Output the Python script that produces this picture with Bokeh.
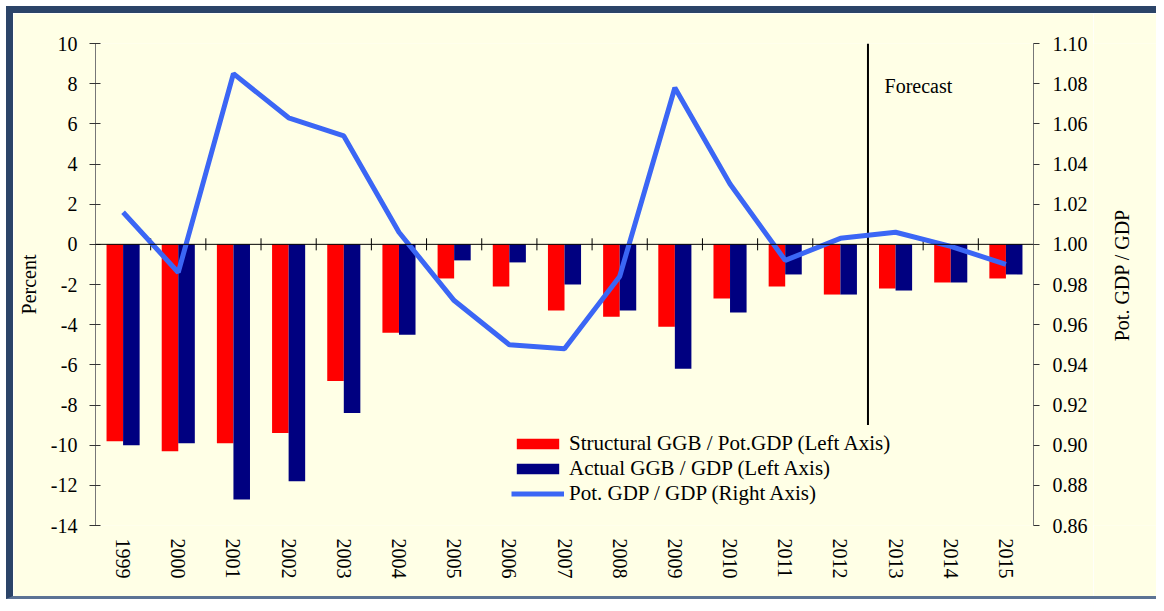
import math
from bokeh.plotting import figure
from bokeh.layouts import row
from bokeh.models import (Range1d, FactorRange, LinearAxis, FixedTicker, NumeralTickFormatter,
                          Span, Legend, LegendItem, ColumnDataSource)
from bokeh.transform import dodge
from bokeh.core.properties import value
from bokeh.embed import file_html
from bokeh.resources import INLINE

years = ["1999", "2000", "2001", "2002", "2003", "2004", "2005", "2006", "2007",
         "2008", "2009", "2010", "2011", "2012", "2013", "2014", "2015"]
structural_ggb = [-9.8, -10.3, -9.9, -9.4, -6.8, -4.4, -1.7, -2.1, -3.3,
                  -3.6, -4.1, -2.7, -2.1, -2.5, -2.2, -1.9, -1.7]
actual_ggb = [-10.0, -9.9, -12.7, -11.8, -8.4, -4.5, -0.8, -0.9, -2.0,
              -3.3, -6.2, -3.4, -1.5, -2.5, -2.3, -1.9, -1.5]
pot_gdp_ratio = [1.016, 0.986, 1.085, 1.063, 1.054, 1.006, 0.972, 0.950, 0.948,
                 0.984, 1.078, 1.030, 0.992, 1.003, 1.006, 0.999, 0.990]
left_ticks = list(range(-14, 11, 2))
right_ticks = [0.86, 0.88, 0.90, 0.92, 0.94, 0.96, 0.98, 1.00, 1.02, 1.04, 1.06, 1.08, 1.10]
forecast_start = "2013"
right_axis_title = "Pot. GDP / GDP"

FONT = "Liberation Serif"
BG = "#FFFFE6"
NAVY_FRAME = "#2B4468"
B_LEFT, B_RIGHT, B_TOP, B_BOTTOM = 82, 67, 30, 81
FRAME_W, FRAME_H = 938, 482
TOTAL_W = B_LEFT + FRAME_W + B_RIGHT
TOTAL_H = B_TOP + FRAME_H + B_BOTTOM

src = ColumnDataSource(dict(year=years, s=structural_ggb, a=actual_ggb, r=pot_gdp_ratio,
                            zero=[0] * len(years)))

p = figure(x_range=FactorRange(*years), y_range=Range1d(-14, 10),
           width=TOTAL_W, height=TOTAL_H,
           min_border_left=B_LEFT, min_border_top=B_TOP, min_border_right=B_RIGHT,
           min_border_bottom=B_BOTTOM,
           output_backend="svg", toolbar_location=None,
           background_fill_color=BG, border_fill_color=BG, outline_line_color=None)
p.extra_y_ranges = {"right": Range1d(0.86, 1.10)}
p.styles = {"margin-top": "6px", "margin-left": "6px",
            "border-top": f"7px solid {NAVY_FRAME}", "border-left": f"7px solid {NAVY_FRAME}",
            "border-bottom": "3px solid #5C7394"}
p.xgrid.visible = False
p.ygrid.visible = False

# bars
rb = p.vbar(x=dodge("year", -0.15, range=p.x_range), top="zero", bottom="s", width=0.3,
            source=src, fill_color="#FF0000", line_color=None)
nb = p.vbar(x=dodge("year", 0.15, range=p.x_range), top="zero", bottom="a", width=0.3,
            source=src, fill_color="#000080", line_color=None)

# zero line with category boundary ticks
p.add_layout(Span(location=0, dimension="width", line_color="black", line_width=1))
n = len(years)
bx = list(range(1, n))
p.segment(x0=bx, x1=bx, y0=[-0.3] * len(bx), y1=[0.3] * len(bx), line_color="black", line_width=1)

# forecast divider
fi = years.index(forecast_start)
p.segment(x0=[fi], x1=[fi], y0=[10], y1=[-9], line_color="black", line_width=2)
p.text(x=[fi + 0.3], y=[7.9], text=["Forecast"], text_font=value(FONT), text_font_size="20px",
       text_baseline="middle", text_align="left", text_color="black")

# line
ln = p.line(x="year", y="r", source=src, y_range_name="right", line_color="#3B66F5",
            line_width=5)

# axes
la = p.yaxis[0]
la.ticker = FixedTicker(ticks=left_ticks)
la.major_label_overrides = {t: str(t) for t in left_ticks}
la.axis_label = "Percent"
la.major_tick_out = 6
la.major_tick_in = 5
la.minor_tick_line_color = None
la.axis_line_color = "#777777"
la.major_tick_line_color = "#333333"
la.major_label_standoff = 12
la.axis_label_standoff = 8

ra = LinearAxis(y_range_name="right", ticker=FixedTicker(ticks=right_ticks),
                formatter=NumeralTickFormatter(format="0.00"))
ra.major_tick_out = 6
ra.major_tick_in = 0
ra.minor_tick_line_color = None
ra.axis_line_color = "#777777"
ra.major_tick_line_color = "#333333"
ra.major_label_standoff = 13
p.add_layout(ra, "right")

xa = p.xaxis[0]
xa.axis_line_color = None
xa.major_tick_line_color = None
xa.minor_tick_line_color = None
xa.major_tick_out = 0
xa.major_label_orientation = "vertical"
xa.major_label_standoff = 13

for ax in [la, ra, xa]:
    ax.major_label_text_font = FONT
    ax.major_label_text_font_size = "20px"
    ax.major_label_text_color = "black"
    ax.axis_label_text_font = FONT
    ax.axis_label_text_font_size = "20px"
    ax.axis_label_text_font_style = "normal"
    ax.axis_label_text_color = "black"

legend = Legend(items=[
    LegendItem(label="Structural GGB / Pot.GDP (Left Axis)", renderers=[rb]),
    LegendItem(label="Actual GGB / GDP (Left Axis)", renderers=[nb]),
    LegendItem(label="Pot. GDP / GDP (Right Axis)", renderers=[ln]),
], location=(416, 19))
legend.background_fill_alpha = 0
legend.border_line_color = None
legend.padding = 0
legend.margin = 0
legend.spacing = 0
legend.glyph_width = 53
legend.glyph_height = 13
legend.label_height = 24
legend.label_standoff = 5
legend.label_text_font = FONT
legend.label_text_font_size = "21px"
legend.label_text_color = "black"
p.add_layout(legend, "center")

# narrow side panel carrying the right-axis title (reads bottom to top)
P2_W = 63
p2 = figure(x_range=Range1d(0, P2_W), y_range=Range1d(0, TOTAL_H),
            width=P2_W, height=TOTAL_H, x_axis_location=None, y_axis_location=None,
            min_border=0, output_backend="svg", toolbar_location=None,
            background_fill_color=BG, border_fill_color=BG, outline_line_color=None)
p2.styles = {"margin-top": "6px",
             "border-top": f"7px solid {NAVY_FRAME}", "border-bottom": "3px solid #5C7394"}
p2.grid.visible = False
p2.text(x=[28], y=[TOTAL_H - (B_TOP + FRAME_H / 2) - 14], text=[right_axis_title],
        angle=math.pi / 2, text_font=value(FONT), text_font_size="20px",
        text_align="center", text_baseline="middle", text_color="black")

layout = row(p, p2, spacing=0)
open("out.html", "w").write(file_html(layout, INLINE))
